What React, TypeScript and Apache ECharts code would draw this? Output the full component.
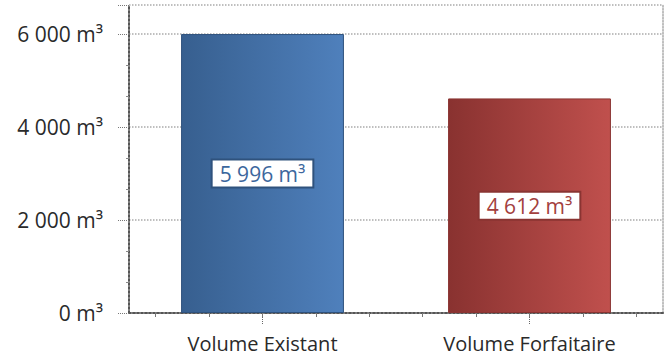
import React, { useEffect, useRef } from "react";
import * as echarts from "echarts";

const categories = ["Volume Existant", "Volume Forfaitaire"];
const volumes = [5996, 4612];
const yTicks = [0, 2000, 4000, 6000];
const minorSlots = ["a", "b", "c", "d", "e", "f", "g", "h", "i", "j"];

const fmt = (v: number) =>
  String(Math.round(v)).replace(/\B(?=(\d{3})+(?!\d))/g, " ") + " m³";

const FONT = "Open Sans";

const barStyles = [
  { from: "#375f8f", to: "#4f80bc", border: "#2f527d", text: "#3c679d" },
  { from: "#893230", to: "#c0504d", border: "#8a3432", text: "#a3403e" },
];

export default function App() {
  const ref = useRef<HTMLDivElement>(null);
  useEffect(() => {
    if (!ref.current) return;
    const chart = echarts.init(ref.current, undefined, { renderer: "svg" });
    chart.setOption({
      animation: false,
      backgroundColor: "#ffffff",
      grid: { left: 129, right: 6, top: 5, bottom: 47, containLabel: false },
      xAxis: [
        {
          type: "category",
          data: categories,
          position: "bottom",
          axisLine: { lineStyle: { color: "#555", type: "dotted", width: 2 } },
          axisTick: {
            show: true,
            alignWithLabel: true,
            length: 11,
            lineStyle: { color: "#666", type: "dotted" },
          },
          axisLabel: {
            margin: 20,
            fontFamily: FONT,
            fontSize: 20,
            color: "#2a2a2a",
          },
        },
        {
          type: "category",
          data: minorSlots,
          position: "bottom",
          axisLine: { show: false },
          axisTick: {
            show: true,
            alignWithLabel: true,
            length: 4,
            lineStyle: { color: "#777" },
          },
          axisLabel: { show: false },
        },
      ],
      yAxis: [
        {
          type: "value",
          min: 0,
          max: 6620,
          interval: 2000,
          axisLine: {
            show: true,
            lineStyle: { color: "#555", type: "dotted", width: 2 },
          },
          axisTick: {
            show: true,
            length: 11,
            lineStyle: { color: "#777", type: "dotted" },
          },
          minorTick: { show: true, splitNumber: 3, length: 3, lineStyle: { color: "#888" } },
          splitLine: { lineStyle: { color: "#aaa", type: "dotted", width: 1.5 } },
          axisLabel: {
            margin: 26,
            showMaxLabel: false,
            fontFamily: FONT,
            fontSize: 21,
            color: "#2a2a2a",
            formatter: (v: number) => (yTicks.includes(v) ? fmt(v) : ""),
          },
        },
        {
          type: "value",
          position: "right",
          min: 0,
          max: 6620,
          axisLine: {
            show: true,
            lineStyle: { color: "#aaa", type: "dotted", width: 1.5 },
          },
          axisTick: { show: false },
          axisLabel: { show: false },
          splitLine: { show: false },
        },
      ],
      series: [
        {
          type: "bar",
          barWidth: "61%",
          data: volumes.map((v, i) => {
            const s = barStyles[i];
            return {
              value: v,
              itemStyle: {
                color: new echarts.graphic.LinearGradient(0, 0, 1, 0, [
                  { offset: 0, color: s.from },
                  { offset: 1, color: s.to },
                ]),
                borderColor: s.border,
                borderWidth: 1,
              },
              label: {
                show: true,
                position: "inside",
                formatter: (p: any) => fmt(p.value),
                fontFamily: FONT,
                fontSize: 21,
                color: s.text,
                backgroundColor: "#ffffff",
                borderColor: s.border,
                borderWidth: 2,
                padding: [3, 7, 2, 7],
              },
            };
          }),
        },
      ],
    });
    return () => chart.dispose();
  }, []);
  return (
    <div
      ref={ref}
      style={{ position: "fixed", left: 0, top: 0, width: 669, height: 360 }}
    />
  );
}
